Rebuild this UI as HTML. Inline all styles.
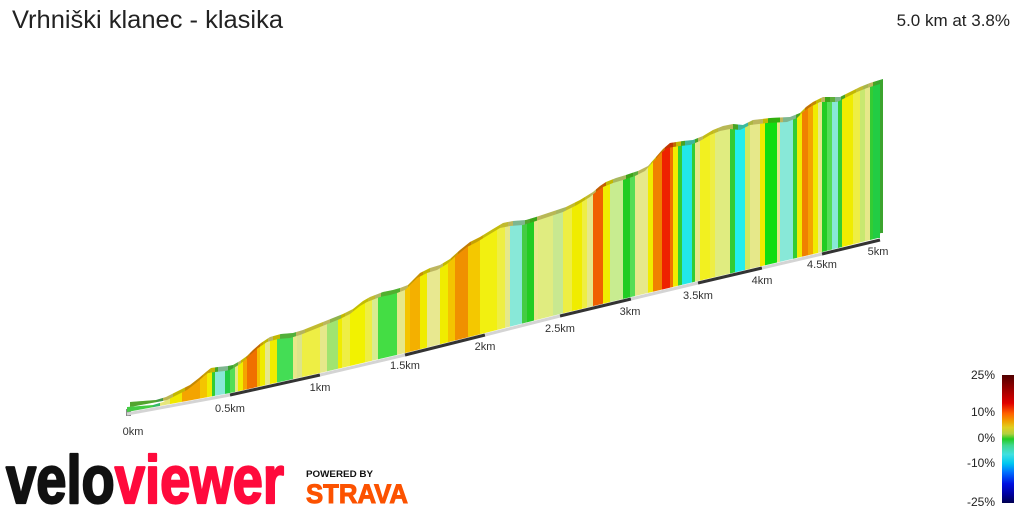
<!DOCTYPE html>
<html><head><meta charset="utf-8">
<style>
html,body{margin:0;padding:0;background:#fff;}
svg{display:block;}
text{font-family:"Liberation Sans",sans-serif;}
</style></head>
<body>
<svg width="1024" height="512" viewBox="0 0 1024 512" xmlns="http://www.w3.org/2000/svg">
<defs>
<clipPath id="f"><polygon points="127,407 140,406 153,405 163,402 175,396 187,390 196,383 203,377 208,373 215,372 225,371 230,370 237,366 244,361 250,355 258,348 267,342 278,339 290,338 300,335 310,331 320,327 330,323 340,319 350,314 360,306 367,302 380,297 390,295 397,293 405,290 410,285 417,278 427,273 437,270 447,264 457,255 467,247 477,242 490,234 500,228 510,226 523,225 533,222 548,217 563,212 577,205 590,197 597,191 603,187 613,183 623,180 635,176 645,171 653,162 660,154 667,148 680,146 690,145 700,141 710,135 720,131 730,129 740,130 750,125 767,123 787,122 797,118 803,112 810,107 820,102 837,102 847,97 857,92 867,88 880,84 880,238 878,238 822,252 762,266 698,281 631,297 560,314 485,333 405,353 320,373 230,393 127,412"/></clipPath>
<g id="st">
<rect x="127" y="60" width="26" height="380" fill="#44cc44"/>
<rect x="153" y="60" width="7" height="380" fill="#33bb66"/>
<rect x="160" y="60" width="10" height="380" fill="#e6e67a"/>
<rect x="170" y="60" width="12" height="380" fill="#f0e800"/>
<rect x="182" y="60" width="18" height="380" fill="#f4a400"/>
<rect x="200" y="60" width="7" height="380" fill="#f4c400"/>
<rect x="207" y="60" width="5" height="380" fill="#f0ec00"/>
<rect x="212" y="60" width="3" height="380" fill="#33cc33"/>
<rect x="215" y="60" width="10" height="380" fill="#88e8d8"/>
<rect x="225" y="60" width="5" height="380" fill="#22cc44"/>
<rect x="230" y="60" width="5" height="380" fill="#55dd55"/>
<rect x="235" y="60" width="3" height="380" fill="#e6e88a"/>
<rect x="238" y="60" width="5" height="380" fill="#f0ec00"/>
<rect x="243" y="60" width="4" height="380" fill="#f4a400"/>
<rect x="247" y="60" width="10" height="380" fill="#f07000"/>
<rect x="257" y="60" width="3" height="380" fill="#f4c000"/>
<rect x="260" y="60" width="5" height="380" fill="#f0ec00"/>
<rect x="265" y="60" width="5" height="380" fill="#e6e88a"/>
<rect x="270" y="60" width="7" height="380" fill="#f0ec00"/>
<rect x="277" y="60" width="16" height="380" fill="#44dd55"/>
<rect x="293" y="60" width="4" height="380" fill="#e6e88a"/>
<rect x="297" y="60" width="5" height="380" fill="#dce48a"/>
<rect x="302" y="60" width="18" height="380" fill="#eeee44"/>
<rect x="320" y="60" width="7" height="380" fill="#e6e88a"/>
<rect x="327" y="60" width="11" height="380" fill="#a0e470"/>
<rect x="338" y="60" width="4" height="380" fill="#f0ec00"/>
<rect x="342" y="60" width="8" height="380" fill="#eeee44"/>
<rect x="350" y="60" width="15" height="380" fill="#f2f200"/>
<rect x="365" y="60" width="7" height="380" fill="#eeee44"/>
<rect x="372" y="60" width="6" height="380" fill="#d8ec90"/>
<rect x="378" y="60" width="19" height="380" fill="#44dd44"/>
<rect x="397" y="60" width="8" height="380" fill="#e6e88a"/>
<rect x="405" y="60" width="5" height="380" fill="#f4c400"/>
<rect x="410" y="60" width="10" height="380" fill="#f4b000"/>
<rect x="420" y="60" width="7" height="380" fill="#f0ec00"/>
<rect x="427" y="60" width="13" height="380" fill="#e8e890"/>
<rect x="440" y="60" width="8" height="380" fill="#f0ec00"/>
<rect x="448" y="60" width="7" height="380" fill="#f4c400"/>
<rect x="455" y="60" width="13" height="380" fill="#f09000"/>
<rect x="468" y="60" width="12" height="380" fill="#f4c800"/>
<rect x="480" y="60" width="17" height="380" fill="#f2f010"/>
<rect x="497" y="60" width="8" height="380" fill="#eeee44"/>
<rect x="505" y="60" width="5" height="380" fill="#e6e88a"/>
<rect x="510" y="60" width="12" height="380" fill="#88e8d8"/>
<rect x="522" y="60" width="5" height="380" fill="#44cc44"/>
<rect x="527" y="60" width="7" height="380" fill="#22cc22"/>
<rect x="534" y="60" width="4" height="380" fill="#e6e88a"/>
<rect x="538" y="60" width="15" height="380" fill="#e0ec80"/>
<rect x="553" y="60" width="10" height="380" fill="#c8e890"/>
<rect x="563" y="60" width="9" height="380" fill="#eeee44"/>
<rect x="572" y="60" width="10" height="380" fill="#f0ec00"/>
<rect x="582" y="60" width="5" height="380" fill="#eeee44"/>
<rect x="587" y="60" width="6" height="380" fill="#e6e88a"/>
<rect x="593" y="60" width="10" height="380" fill="#f06000"/>
<rect x="603" y="60" width="7" height="380" fill="#f0ec00"/>
<rect x="610" y="60" width="13" height="380" fill="#c8ec90"/>
<rect x="623" y="60" width="7" height="380" fill="#22cc22"/>
<rect x="630" y="60" width="5" height="380" fill="#55dd55"/>
<rect x="635" y="60" width="13" height="380" fill="#e6e88a"/>
<rect x="648" y="60" width="5" height="380" fill="#f0ec00"/>
<rect x="653" y="60" width="9" height="380" fill="#f08000"/>
<rect x="662" y="60" width="8" height="380" fill="#ee2200"/>
<rect x="670" y="60" width="3" height="380" fill="#f07000"/>
<rect x="673" y="60" width="5" height="380" fill="#f0ec00"/>
<rect x="678" y="60" width="4" height="380" fill="#33cc33"/>
<rect x="682" y="60" width="10" height="380" fill="#22e8e8"/>
<rect x="692" y="60" width="3" height="380" fill="#33cc33"/>
<rect x="695" y="60" width="5" height="380" fill="#e6e88a"/>
<rect x="700" y="60" width="10" height="380" fill="#f2f020"/>
<rect x="710" y="60" width="5" height="380" fill="#eeee44"/>
<rect x="715" y="60" width="15" height="380" fill="#e0ec80"/>
<rect x="730" y="60" width="5" height="380" fill="#33cc33"/>
<rect x="735" y="60" width="10" height="380" fill="#22eeee"/>
<rect x="745" y="60" width="5" height="380" fill="#d0e860"/>
<rect x="750" y="60" width="10" height="380" fill="#e6e88a"/>
<rect x="760" y="60" width="5" height="380" fill="#f0ec00"/>
<rect x="765" y="60" width="12" height="380" fill="#11dd11"/>
<rect x="777" y="60" width="3" height="380" fill="#e6e88a"/>
<rect x="780" y="60" width="13" height="380" fill="#88e8d8"/>
<rect x="793" y="60" width="4" height="380" fill="#33cc33"/>
<rect x="797" y="60" width="5" height="380" fill="#f0ec00"/>
<rect x="802" y="60" width="6" height="380" fill="#f08000"/>
<rect x="808" y="60" width="5" height="380" fill="#f4a400"/>
<rect x="813" y="60" width="5" height="380" fill="#f0ec00"/>
<rect x="818" y="60" width="4" height="380" fill="#e6e88a"/>
<rect x="822" y="60" width="5" height="380" fill="#22cc22"/>
<rect x="827" y="60" width="5" height="380" fill="#55dd55"/>
<rect x="832" y="60" width="6" height="380" fill="#88e8d8"/>
<rect x="838" y="60" width="4" height="380" fill="#33cc33"/>
<rect x="842" y="60" width="11" height="380" fill="#f0ec00"/>
<rect x="853" y="60" width="7" height="380" fill="#eeee44"/>
<rect x="860" y="60" width="5" height="380" fill="#c8e870"/>
<rect x="865" y="60" width="5" height="380" fill="#e6e88a"/>
<rect x="870" y="60" width="3" height="380" fill="#33cc33"/>
<rect x="873" y="60" width="7" height="380" fill="#22cc44"/>
<rect x="880" y="60" width="12" height="380" fill="#55dd55"/>
</g>
<linearGradient id="lg" x1="0" y1="0" x2="0" y2="1">
<stop offset="0" stop-color="#500000"/>
<stop offset="0.12" stop-color="#a00000"/>
<stop offset="0.22" stop-color="#e00000"/>
<stop offset="0.30" stop-color="#ff6000"/>
<stop offset="0.36" stop-color="#f0a000"/>
<stop offset="0.41" stop-color="#e0d020"/>
<stop offset="0.46" stop-color="#b0d040"/>
<stop offset="0.50" stop-color="#22cc22"/>
<stop offset="0.55" stop-color="#40d890"/>
<stop offset="0.62" stop-color="#40e0e0"/>
<stop offset="0.69" stop-color="#00c8f0"/>
<stop offset="0.76" stop-color="#0070ff"/>
<stop offset="0.85" stop-color="#0010e0"/>
<stop offset="0.93" stop-color="#0000a0"/>
<stop offset="1" stop-color="#000050"/>
</linearGradient>
</defs>

<text x="12" y="28" font-size="25" fill="#222" textLength="271" lengthAdjust="spacingAndGlyphs">Vrhniški klanec - klasika</text>
<text x="1010" y="26" font-size="17" fill="#222" text-anchor="end">5.0 km at 3.8%</text>

<!-- base start block -->
<rect x="126" y="409" width="5" height="7" fill="#888"/>

<!-- top band (shifted face, darkened) -->
<g transform="translate(3,-5)">
<g clip-path="url(#f)">
<use href="#st"/>
<rect x="100" y="50" width="820" height="400" fill="rgba(110,90,10,0.35)"/>
</g>
</g>
<!-- front face -->
<g clip-path="url(#f)">
<use href="#st"/>
</g>

<!-- base ribbon -->
<g fill="none" stroke-width="3" stroke-linecap="butt">
<polyline points="127,414 230,395" stroke="#d4d4d4"/>
<polyline points="230,395 320,375" stroke="#333"/>
<polyline points="320,375 405,355" stroke="#d4d4d4"/>
<polyline points="405,355 485,335" stroke="#333"/>
<polyline points="485,335 560,316" stroke="#d4d4d4"/>
<polyline points="560,316 631,299" stroke="#333"/>
<polyline points="631,299 698,283" stroke="#d4d4d4"/>
<polyline points="698,283 762,268" stroke="#333"/>
<polyline points="762,268 822,254" stroke="#d4d4d4"/>
<polyline points="822,254 880,240" stroke="#333"/>
</g>

<g font-size="11" fill="#333" text-anchor="middle">
<text x="133" y="435">0km</text>
<text x="230" y="412">0.5km</text>
<text x="320" y="391">1km</text>
<text x="405" y="369">1.5km</text>
<text x="485" y="350">2km</text>
<text x="560" y="332">2.5km</text>
<text x="630" y="315">3km</text>
<text x="698" y="299">3.5km</text>
<text x="762" y="284">4km</text>
<text x="822" y="268">4.5km</text>
<text x="878" y="255">5km</text>
</g>

<!-- legend -->
<rect x="1002" y="375" width="12" height="128" fill="url(#lg)"/>
<g font-size="12" fill="#222" text-anchor="end">
<text x="995" y="379">25%</text>
<text x="995" y="416">10%</text>
<text x="995" y="442">0%</text>
<text x="995" y="467">-10%</text>
<text x="995" y="506">-25%</text>
</g>

<!-- logos -->
<text x="6" y="503" font-size="68" font-weight="bold" textLength="278" lengthAdjust="spacingAndGlyphs" stroke-width="2.2" stroke-linejoin="round"><tspan fill="#111" stroke="#111">velo</tspan><tspan fill="#ff0a3c" stroke="#ff0a3c">viewer</tspan></text>
<text x="306" y="477" font-size="9.5" font-weight="bold" fill="#111" textLength="67" lengthAdjust="spacingAndGlyphs">POWERED BY</text>
<text x="306" y="503" font-size="27" font-weight="bold" fill="#fc5200" stroke="#fc5200" stroke-width="1" textLength="102" lengthAdjust="spacingAndGlyphs">STRAVA</text>
</svg>
</body></html>
